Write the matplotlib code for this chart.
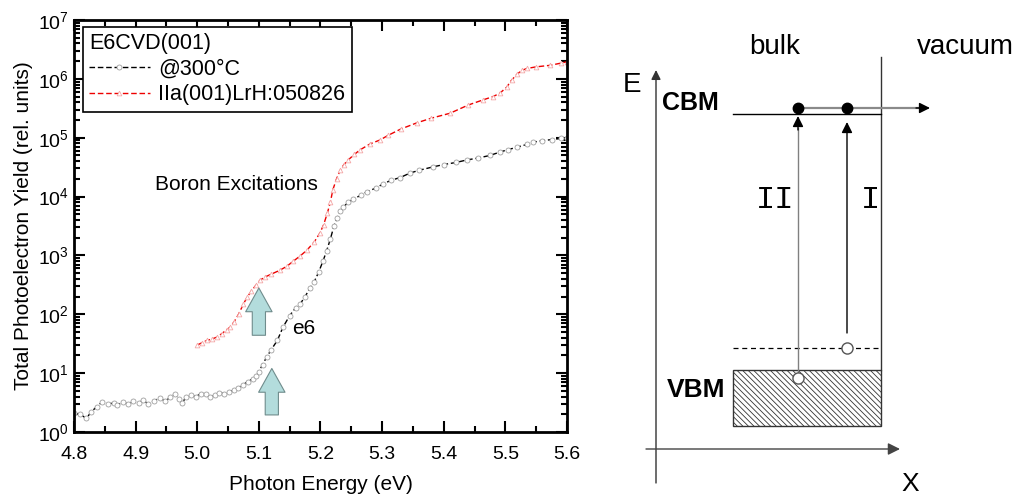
#%%############################################################################
# Total photoelectron yield spectra (left) and the band diagram (right).
###############################################################################
import numpy as np
import matplotlib.pyplot as plt
from matplotlib.patches import Rectangle
from matplotlib.ticker import LogLocator, NullFormatter

plt.rcParams['font.family'] = ['Liberation Sans', 'DejaVu Sans']
plt.rcParams['mathtext.fontset'] = 'custom'
plt.rcParams['mathtext.rm'] = 'Liberation Sans'
plt.rcParams['hatch.color'] = '#a8a8a8'
plt.rcParams['hatch.linewidth'] = 0.6

#%%############################################################################
# Data.
###############################################################################
e6_eV = [4.800, 4.810, 4.820, 4.828, 4.837, 4.845, 4.855, 4.865, 4.870, 4.880,
         4.888, 4.896, 4.905, 4.912, 4.920, 4.930, 4.940, 4.948, 4.956, 4.964,
         4.970, 4.975, 4.982, 4.990, 4.998, 5.006, 5.014, 5.020, 5.028, 5.036,
         5.044, 5.052, 5.060, 5.066, 5.074, 5.082, 5.090, 5.096, 5.100, 5.106,
         5.113, 5.120, 5.130, 5.139, 5.150, 5.160, 5.167, 5.175, 5.183, 5.190,
         5.197, 5.204, 5.210, 5.216, 5.222, 5.227, 5.232, 5.237, 5.245, 5.253,
         5.265, 5.275, 5.290, 5.302, 5.315, 5.329, 5.345, 5.360, 5.383, 5.400,
         5.420, 5.438, 5.455, 5.475, 5.491, 5.505, 5.519, 5.535, 5.545, 5.560,
         5.575, 5.590, 5.600]
e6Yield = [2.1, 2.0, 1.7, 2.2, 2.7, 3.2, 3.0, 3.1, 2.9, 3.2,
           3.0, 3.3, 3.1, 3.5, 3.0, 3.4, 3.8, 3.3, 3.9, 4.4,
           3.6, 3.1, 3.9, 4.2, 4.0, 4.5, 4.4, 3.9, 4.2, 4.6,
           4.5, 4.8, 5.2, 5.6, 6.3, 7.2, 8.0, 9.0, 10.5, 14,
           19, 25, 36, 60, 95, 130, 150, 200, 280, 360,
           520, 800, 1200, 1900, 3200, 4300, 5600, 6600, 8000, 9000,
           10500, 12000, 14000, 16500, 19000, 21000, 25000, 28000, 32000, 35000,
           38000, 42000, 45000, 50000, 57000, 63000, 69000, 77000, 84000, 89000,
           93000, 97000, 100000]

iia_eV = [5.000, 5.008, 5.016, 5.024, 5.032, 5.040, 5.048, 5.053, 5.060, 5.067,
          5.075, 5.081, 5.088, 5.095, 5.102, 5.110, 5.120, 5.134, 5.145, 5.156,
          5.167, 5.178, 5.190, 5.199, 5.205, 5.211, 5.216, 5.220, 5.226, 5.232,
          5.238, 5.245, 5.255, 5.264, 5.280, 5.297, 5.310, 5.330, 5.357, 5.380,
          5.410, 5.440, 5.464, 5.480, 5.491, 5.502, 5.510, 5.519, 5.527, 5.535,
          5.550, 5.573, 5.590, 5.600]
iiaYield = [30, 33, 36, 38, 41, 47, 55, 60, 75, 100,
            150, 195, 250, 310, 380, 430, 480, 560, 650, 800,
            980, 1230, 1700, 2400, 3300, 5200, 8000, 13000, 20000, 28000,
            35000, 42000, 52000, 62000, 78000, 92000, 110000, 140000, 180000, 215000,
            260000, 360000, 440000, 500000, 570000, 720000, 950000, 1200000, 1400000, 1500000,
            1600000, 1700000, 1850000, 1950000]

# Arrows marking the onsets (x, bottom, tip).
onsetArrows = [(5.100, 44, 280), (5.121, 1.95, 12)]

#%%############################################################################
# Left panel.
###############################################################################
fig = plt.figure(figsize=(10.24, 4.97), dpi=100)
ax = fig.add_axes([74/1024, 65/497, 493/1024, 412/497])

ax.plot(e6_eV, e6Yield, color='k', ls=(0, (4, 2)), lw=1.0, marker='o', ms=3.6,
        mfc='white', mec='#a0a0a0', mew=0.6, label='@300°C')
ax.plot(iia_eV, iiaYield, color='#ee0000', ls=(0, (4, 2)), lw=1.0, marker='^', ms=3.4,
        mfc='white', mec='#f4a8a8', mew=0.6, label='IIa(001)LrH:050826')

ax.set_yscale('log')
ax.set_xlim(4.8, 5.6)
ax.set_ylim(1, 1e7)
ax.yaxis.set_major_locator(LogLocator(base=10, numticks=20))
ax.yaxis.set_minor_locator(LogLocator(base=10, subs=np.arange(2, 10), numticks=100))
ax.yaxis.set_minor_formatter(NullFormatter())
ax.set_xticks(np.arange(4.8, 5.61, 0.1))
ax.set_xticks(np.arange(4.85, 5.6, 0.1), minor=True)
ax.tick_params(which='both', direction='in', top=True, right=True, width=1.5, labelsize=14)
ax.tick_params(which='major', length=8)
ax.tick_params(which='minor', length=4.5)
ax.tick_params(axis='x', which='major', pad=10)
for spine in ax.spines.values():
    spine.set_linewidth(2)
ax.set_xlabel('Photon Energy (eV)', fontsize=15, labelpad=9)
ax.set_ylabel('Total Photoelectron Yield (rel. units)', fontsize=15, labelpad=4)

for x, y0, y1 in onsetArrows:
    ax.annotate('', xy=(x, y1), xytext=(x, y0),
                arrowprops=dict(arrowstyle='simple,head_length=0.9,head_width=1.0,tail_width=0.5',
                                mutation_scale=19, fc='#b3dcdc', ec='#6f8c8c', lw=0.8,
                                shrinkA=0, shrinkB=0))

ax.text(5.063, 1.6e4, 'Boron Excitations', fontsize=15, ha='center', va='center')
ax.text(5.173, 58, 'e6', fontsize=15, ha='center', va='center')

leg = ax.legend(loc='upper left', bbox_to_anchor=(0.018, 0.983), borderaxespad=0,
                title='E6CVD(001)', alignment='left', fontsize=15.5, title_fontsize=15.5,
                fancybox=False, edgecolor='k', framealpha=1, handlelength=2.8,
                numpoints=1, borderpad=0.3, labelspacing=0.2, handletextpad=0.4)
leg.get_frame().set_linewidth(1.2)

#%%############################################################################
# Right panel: band diagram in pixel coordinates.
###############################################################################
ax2 = fig.add_axes([600/1024, 0, 424/1024, 1])
ax2.set_xlim(600, 1024)
ax2.set_ylim(497, 0)
ax2.axis('off')

boxLeft, boxRight = 733, 881
cbmY, electronY = 114, 108
vbmTop, vbmBottom = 370, 426
defectY = 348
xII, xI = 798, 847
head = dict(arrowstyle='-|>', color='k', lw=1.0, mutation_scale=16, shrinkA=0, shrinkB=0)

# axes of the diagram
ax2.annotate('', xy=(656, 70), xytext=(656, 483), arrowprops=dict(head, color='#333333', mutation_scale=14))
ax2.annotate('', xy=(900, 449), xytext=(646, 449), arrowprops=dict(head, color='#444444', mutation_scale=18))

# surface and band edges
ax2.plot([boxRight, boxRight], [57, vbmTop], color='#333333', lw=1.0)
ax2.plot([boxLeft, boxRight], [cbmY, cbmY], color='k', lw=1.0)
ax2.plot([boxLeft, boxRight], [defectY, defectY], color='k', lw=0.9, ls=(0, (4, 3)))
ax2.add_patch(Rectangle((boxLeft, vbmTop), boxRight - boxLeft, vbmBottom - vbmTop,
                        fc='white', ec='#333333', lw=1.0, hatch='\\\\\\\\\\\\'))

# excitations: gray shafts with black heads
ax2.plot([xII, xII], [378, cbmY + 14], color='#808080', lw=1.0)
ax2.annotate('', xy=(xII, cbmY + 2), xytext=(xII, cbmY + 16), arrowprops=head)
ax2.annotate('', xy=(xI, cbmY + 8), xytext=(xI, 333), arrowprops=head)
ax2.plot([xII, 918], [electronY, electronY], color='#8a8a8a', lw=1.6)
ax2.annotate('', xy=(930, electronY), xytext=(916, electronY), arrowprops=head)
ax2.plot([xII, xI], [electronY, electronY], 'o', color='k', ms=7.5)
ax2.plot([xII, xI], [378, defectY], 'o', mfc='white', mec='#555555', mew=1.0, ms=8)

# labels
ax2.text(775, 54, 'bulk', fontsize=20, ha='center', va='baseline')
ax2.text(965, 54, 'vacuum', fontsize=20, ha='center', va='baseline')
ax2.text(623, 92, 'E', fontsize=20, ha='left', va='baseline')
ax2.text(910, 491, 'X', fontsize=19, ha='center', va='baseline')
ax2.text(662, 110, 'CBM', fontsize=18, fontweight='bold', ha='left', va='baseline')
ax2.text(667, 397, 'VBM', fontsize=19, fontweight='bold', ha='left', va='baseline')
ax2.text(775, 200, 'II', fontsize=23, family='Liberation Mono', ha='center', va='center')
ax2.text(870, 200, 'I', fontsize=23, family='Liberation Mono', ha='center', va='center')

fig.savefig('out.png', dpi=100)
